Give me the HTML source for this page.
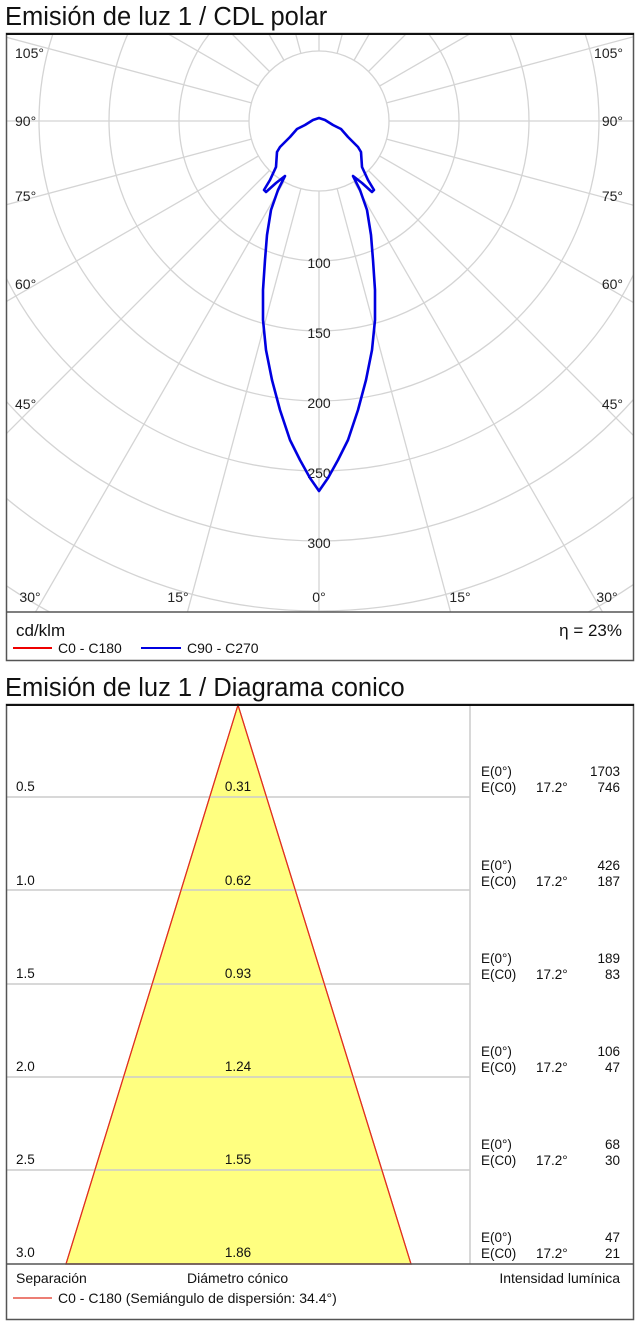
<!DOCTYPE html>
<html><head><meta charset="utf-8"><style>
body{margin:0;background:#fff;width:640px;height:1334px;overflow:hidden;font-family:"Liberation Sans",sans-serif}
svg{display:block}
</style></head><body>
<svg width="640" height="1334" xmlns="http://www.w3.org/2000/svg" font-family="Liberation Sans, sans-serif">
<text x="5" y="25" font-size="25.5" fill="#111">Emisión de luz 1 / CDL polar</text>
<defs><clipPath id="pc"><rect x="7" y="34" width="626" height="578"/></clipPath></defs>
<g clip-path="url(#pc)" stroke="#d4d4d4" stroke-width="1.3" fill="none">
<circle cx="319" cy="121" r="70"/>
<circle cx="319" cy="121" r="140"/>
<circle cx="319" cy="121" r="210"/>
<circle cx="319" cy="121" r="280"/>
<circle cx="319" cy="121" r="350"/>
<circle cx="319" cy="121" r="420"/>
<circle cx="319" cy="121" r="490"/>
<circle cx="319" cy="121" r="560"/>
<circle cx="319" cy="121" r="630"/>
<line x1="319" y1="191" x2="319" y2="900"/>
<line x1="319" y1="191" x2="319" y2="900" transform="rotate(15 319 121)"/>
<line x1="319" y1="191" x2="319" y2="900" transform="rotate(30 319 121)"/>
<line x1="319" y1="191" x2="319" y2="900" transform="rotate(45 319 121)"/>
<line x1="319" y1="191" x2="319" y2="900" transform="rotate(60 319 121)"/>
<line x1="319" y1="191" x2="319" y2="900" transform="rotate(75 319 121)"/>
<line x1="319" y1="191" x2="319" y2="900" transform="rotate(90 319 121)"/>
<line x1="319" y1="191" x2="319" y2="900" transform="rotate(105 319 121)"/>
<line x1="319" y1="191" x2="319" y2="900" transform="rotate(120 319 121)"/>
<line x1="319" y1="191" x2="319" y2="900" transform="rotate(135 319 121)"/>
<line x1="319" y1="191" x2="319" y2="900" transform="rotate(150 319 121)"/>
<line x1="319" y1="191" x2="319" y2="900" transform="rotate(165 319 121)"/>
<line x1="319" y1="191" x2="319" y2="900" transform="rotate(180 319 121)"/>
<line x1="319" y1="191" x2="319" y2="900" transform="rotate(-15 319 121)"/>
<line x1="319" y1="191" x2="319" y2="900" transform="rotate(-30 319 121)"/>
<line x1="319" y1="191" x2="319" y2="900" transform="rotate(-45 319 121)"/>
<line x1="319" y1="191" x2="319" y2="900" transform="rotate(-60 319 121)"/>
<line x1="319" y1="191" x2="319" y2="900" transform="rotate(-75 319 121)"/>
<line x1="319" y1="191" x2="319" y2="900" transform="rotate(-90 319 121)"/>
<line x1="319" y1="191" x2="319" y2="900" transform="rotate(-105 319 121)"/>
<line x1="319" y1="191" x2="319" y2="900" transform="rotate(-120 319 121)"/>
<line x1="319" y1="191" x2="319" y2="900" transform="rotate(-135 319 121)"/>
<line x1="319" y1="191" x2="319" y2="900" transform="rotate(-150 319 121)"/>
<line x1="319" y1="191" x2="319" y2="900" transform="rotate(-165 319 121)"/>
</g>
<g font-size="14" fill="#222">
<g text-anchor="middle">
<text x="319" y="268">100</text><text x="319" y="338">150</text><text x="319" y="408">200</text>
<text x="319" y="478">250</text><text x="319" y="548">300</text>
<text x="30" y="602">30°</text><text x="178" y="602">15°</text><text x="319" y="602">0°</text>
<text x="460" y="602">15°</text><text x="607" y="602">30°</text>
</g>
<text x="15" y="58">105°</text><text x="15" y="126">90°</text><text x="15" y="201">75°</text><text x="15" y="289">60°</text><text x="15" y="409">45°</text>
<g text-anchor="end"><text x="623" y="58">105°</text><text x="623" y="126">90°</text><text x="623" y="201">75°</text><text x="623" y="289">60°</text><text x="623" y="409">45°</text></g>
</g>
<path d="M319,491 L310,478 L300,460 L290,440 L280,410 L272,380 L266,350 L263,320 L263,290 L265,260 L267,235 L271,210 L278,190 L285,176 L276,183 L266,192 L264,190 L270,180 L276,167 L277,152 L280,147 L290,137 L297,129 L305,125 L313,120 L319,118 L325,120 L333,125 L341,129 L348,137 L358,147 L361,152 L362,167 L368,180 L374,190 L372,192 L362,183 L353,176 L360,190 L367,210 L371,235 L373,260 L375,290 L375,320 L372,350 L366,380 L358,410 L348,440 L338,460 L328,478 Z" fill="none" stroke="#0000e0" stroke-width="2.6" stroke-linejoin="round"/>
<rect x="6.5" y="33.5" width="627" height="627" fill="none" stroke="#555" stroke-width="1.5"/>
<line x1="6" y1="34" x2="634" y2="34" stroke="#111" stroke-width="2"/>
<line x1="6" y1="612" x2="634" y2="612" stroke="#555" stroke-width="1.5"/>
<text x="16" y="636" font-size="17" fill="#111">cd/klm</text>
<text x="622" y="636" font-size="17" fill="#111" text-anchor="end">η = 23%</text>
<line x1="13" y1="648" x2="52" y2="648" stroke="#e00" stroke-width="2"/>
<text x="58" y="653" font-size="14" fill="#111">C0 - C180</text>
<line x1="141" y1="648" x2="181" y2="648" stroke="#0000e0" stroke-width="2"/>
<text x="187" y="653" font-size="14" fill="#111">C90 - C270</text>

<text x="5" y="696" font-size="25.5" fill="#111">Emisión de luz 1 / Diagrama conico</text>
<polygon points="238,705 66,1264 411,1264" fill="#ffff80" stroke="#e03020" stroke-width="1.2"/>
<g stroke="#cccccc" stroke-width="1.5">
<line x1="7" y1="797" x2="470" y2="797"/><line x1="7" y1="890" x2="470" y2="890"/>
<line x1="7" y1="984" x2="470" y2="984"/><line x1="7" y1="1077" x2="470" y2="1077"/>
<line x1="7" y1="1170" x2="470" y2="1170"/><line x1="470" y1="705" x2="470" y2="1264"/>
</g>
<polygon points="238,705 66,1264 411,1264" fill="none" stroke="#e03020" stroke-width="1.2"/>
<rect x="6.5" y="704.5" width="627" height="615" fill="none" stroke="#555" stroke-width="1.5"/>
<line x1="6" y1="705" x2="634" y2="705" stroke="#111" stroke-width="2"/>
<line x1="6" y1="1264" x2="634" y2="1264" stroke="#555" stroke-width="1.5"/>
<g font-size="13.5" fill="#111">
<text x="16" y="791">0.5</text><text x="16" y="885">1.0</text><text x="16" y="978">1.5</text><text x="16" y="1071">2.0</text><text x="16" y="1164">2.5</text><text x="16" y="1257">3.0</text>
<g text-anchor="middle"><text x="238" y="791">0.31</text><text x="238" y="885">0.62</text><text x="238" y="978">0.93</text><text x="238" y="1071">1.24</text><text x="238" y="1164">1.55</text><text x="238" y="1257">1.86</text></g>
<text x="481" y="776">E(0°)</text><text x="481" y="792">E(C0)</text><text x="536" y="792">17.2°</text>
<text x="481" y="870">E(0°)</text><text x="481" y="886">E(C0)</text><text x="536" y="886">17.2°</text>
<text x="481" y="963">E(0°)</text><text x="481" y="979">E(C0)</text><text x="536" y="979">17.2°</text>
<text x="481" y="1056">E(0°)</text><text x="481" y="1072">E(C0)</text><text x="536" y="1072">17.2°</text>
<text x="481" y="1149">E(0°)</text><text x="481" y="1165">E(C0)</text><text x="536" y="1165">17.2°</text>
<text x="481" y="1242">E(0°)</text><text x="481" y="1258">E(C0)</text><text x="536" y="1258">17.2°</text>
<g text-anchor="end">
<text x="620" y="776">1703</text><text x="620" y="792">746</text>
<text x="620" y="870">426</text><text x="620" y="886">187</text>
<text x="620" y="963">189</text><text x="620" y="979">83</text>
<text x="620" y="1056">106</text><text x="620" y="1072">47</text>
<text x="620" y="1149">68</text><text x="620" y="1165">30</text>
<text x="620" y="1242">47</text><text x="620" y="1258">21</text>
</g>
</g>
<g font-size="14" fill="#111">
<text x="16" y="1283">Separación</text>
<text x="187" y="1283">Diámetro cónico</text>
<text x="620" y="1283" text-anchor="end">Intensidad lumínica</text>
<text x="58" y="1303">C0 - C180 (Semiángulo de dispersión: 34.4°)</text>
</g>
<line x1="13" y1="1298" x2="52" y2="1298" stroke="#e03020" stroke-width="1.2"/>
</svg>
</body></html>
